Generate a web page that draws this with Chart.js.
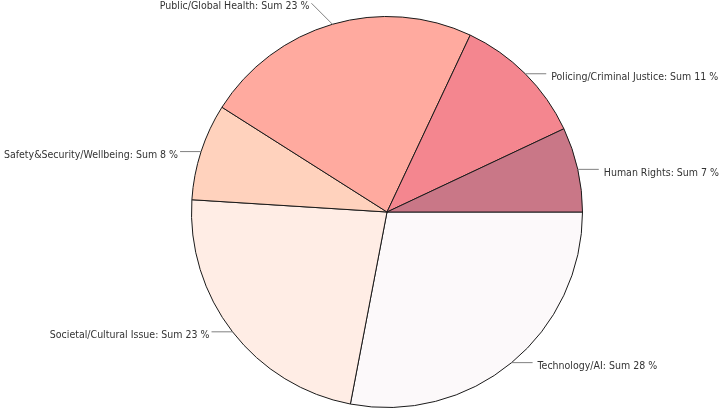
<!DOCTYPE html>
<html><head><meta charset="utf-8">
<script src="https://cdn.jsdelivr.net/npm/chart.js@4.4.1/dist/chart.umd.min.js"></script>
<style>html,body{margin:0;padding:0;background:#fff;}#wrap{width:724px;height:411px;}</style>
</head><body><div id="wrap"><canvas id="c" width="724" height="411"></canvas></div>
<script>
const categories = ["Technology/AI","Societal/Cultural Issue","Safety&Security/Wellbeing","Public/Global Health","Policing/Criminal Justice","Human Rights"];
const values = [28, 23, 8, 23, 11, 7];
const sliceColors = ["#FCF9FA","#FFEDE5","#FFD2BD","#FFAA9F","#F4868F","#C97787"];

const labelPlugin = {
  id: 'outLabels',
  afterDatasetsDraw(chart) {
    const ctx = chart.ctx;
    const meta = chart.getDatasetMeta(0);
    ctx.save();
    ctx.font = '10.5px "DejaVu Sans Condensed", "DejaVu Sans", Verdana, sans-serif';
    meta.data.forEach((arc, i) => {
      const p = arc.getProps(['x','y','startAngle','endAngle','outerRadius'], true);
      const mid = (p.startAngle + p.endAngle) / 2;
      const ex = p.x + Math.cos(mid) * p.outerRadius;
      const ey = p.y + Math.sin(mid) * p.outerRadius;
      const right = Math.cos(mid) >= 0;
      const ax = ex + (right ? 21 : -21);
      const s = Math.sin(mid);
      const ay = Math.abs(s) > 0.9 ? ey + Math.sign(s) * 21 : ey;
      ctx.strokeStyle = '#808080';
      ctx.lineWidth = 1;
      ctx.beginPath();
      ctx.moveTo(ex, ey);
      ctx.lineTo(ax, ay);
      ctx.stroke();
      ctx.fillStyle = '#333333';
      ctx.textBaseline = 'middle';
      ctx.textAlign = right ? 'left' : 'right';
      const txt = categories[i] + ': Sum ' + values[i] + ' %';
      ctx.fillText(txt, ax + (right ? 5 : -2), ay + 3.5);
    });
    ctx.restore();
  }
};

new Chart(document.getElementById('c'), {
  type: 'pie',
  data: {
    labels: categories,
    datasets: [{
      data: values,
      backgroundColor: sliceColors,
      borderColor: '#1a1a1a',
      borderWidth: 1
    }]
  },
  options: {
    responsive: false,
    animation: false,
    rotation: 90,
    layout: { padding: { top: 16, bottom: 3, left: 50, right: 0 } },
    plugins: { legend: { display: false }, tooltip: { enabled: false } }
  },
  plugins: [labelPlugin]
});
</script>
</body></html>
